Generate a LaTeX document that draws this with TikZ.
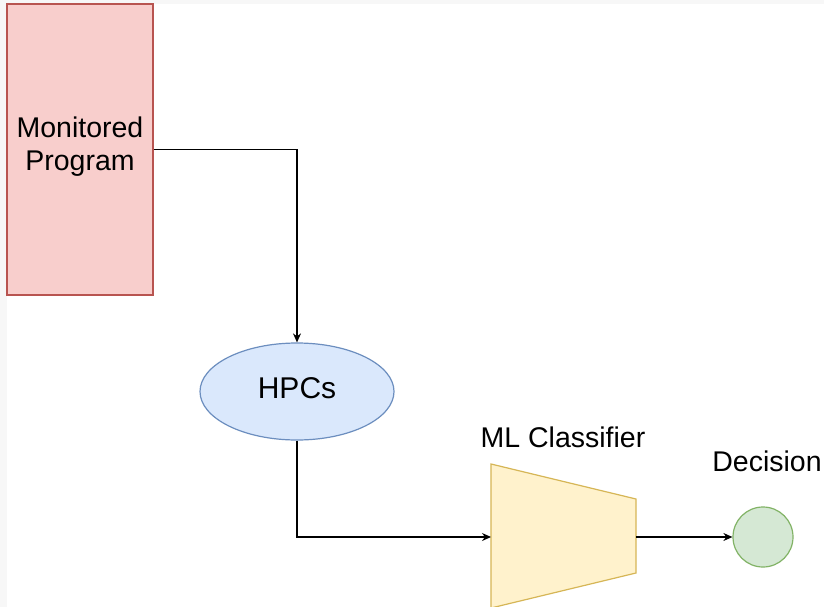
\documentclass[tikz,border=0pt]{standalone}
\usepackage{fontspec}
\setmainfont{Liberation Sans}
\usetikzlibrary{shapes.geometric,arrows.meta}
\definecolor{redfill}{HTML}{F8CECC}
\definecolor{redline}{HTML}{B85450}
\definecolor{bluefill}{HTML}{DAE8FC}
\definecolor{blueline}{HTML}{6C8EBF}
\definecolor{yelfill}{HTML}{FFF2CC}
\definecolor{yelline}{HTML}{D6B656}
\definecolor{grnfill}{HTML}{D5E8D4}
\definecolor{grnline}{HTML}{82B366}
\tikzset{
  lbl/.style={font=\fontsize{28.5}{33}\selectfont, text=black, align=center, inner sep=0pt},
  conn/.style={draw=black, line width=1.2pt, -{Stealth[length=9pt,width=8pt]}},
}
\begin{document}
\begin{tikzpicture}[x=1pt,y=-1pt]
\useasboundingbox (0,0) rectangle (824,607);
\fill[white] (0,0) rectangle (824,607);
\fill[black!3] (0,0) rectangle (824,4);
\fill[black!3] (0,0) rectangle (7,607);
% Monitored Program
\node[draw=redline, fill=redfill, line width=1.2pt, minimum width=146pt, minimum height=291pt, inner sep=0pt] (prog) at (80,149.5) {};
\node[lbl] (progtxt) at (80,147) {Monitored\\Program};
% HPCs
\node[ellipse, draw=blueline, fill=bluefill, line width=1.2pt, minimum width=194pt, minimum height=97pt, inner sep=0pt] (hpc) at (297,391.5) {};
\node[lbl, font=\fontsize{30}{34}\selectfont] (hpctxt) at (297,388) {HPCs};
% ML Classifier trapezoid
\filldraw[draw=yelline, fill=yelfill, line width=1.2pt] (491,464) -- (636,499) -- (636,573) -- (491,608) -- cycle;
\coordinate (clsL) at (491,537);
\coordinate (clsR) at (636,537);
\node[lbl] (clstxt) at (563,437) {ML Classifier};
% Decision
\node[circle, draw=grnline, fill=grnfill, line width=1.2pt, minimum size=60pt, inner sep=0pt] (dec) at (763,537) {};
\node[lbl] (dectxt) at (767,461) {Decision};
% connectors
\draw[conn] (prog.east) -| (hpc.north);
\draw[conn] (hpc.south) |- (clsL);
\draw[conn] (clsR) -- (dec.west);
\end{tikzpicture}
\end{document}
